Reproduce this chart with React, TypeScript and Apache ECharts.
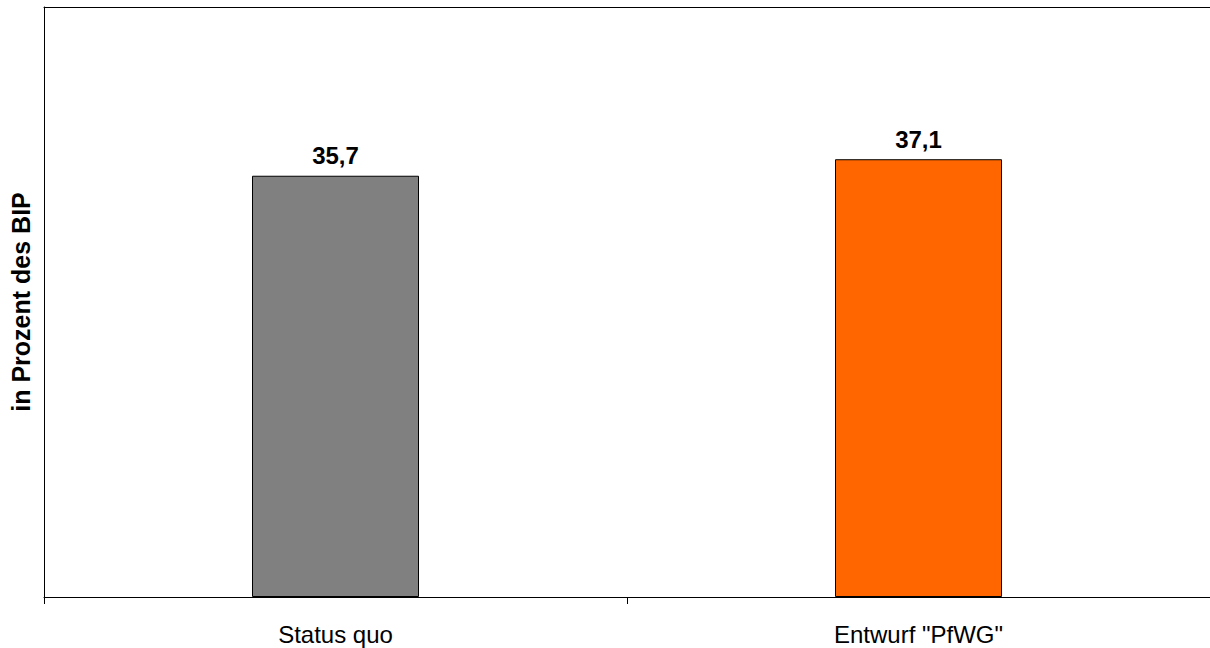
import React, { useEffect, useRef } from "react";
import * as echarts from "echarts";

const categories = ["Status quo", 'Entwurf "PfWG"'];
const values = [35.7, 37.1];
const barColors = ["#808080", "#FF6600"];
const yAxisName = "in Prozent des BIP";

const FONT = "Liberation Sans, Arial, sans-serif";

export default function App() {
  const ref = useRef<HTMLDivElement>(null);
  useEffect(() => {
    const chart = echarts.init(ref.current!, undefined, { renderer: "svg" });
    chart.setOption({
      animation: false,
      backgroundColor: "#fff",
      textStyle: { fontFamily: FONT },
      grid: { left: 42, right: 0, top: 7, bottom: 51, containLabel: false },
      xAxis: [
        {
          type: "category",
          data: categories,
          axisLine: { show: true, lineStyle: { color: "#000", width: 1 } },
          axisTick: { show: true, length: 7, lineStyle: { color: "#000" } },
          axisLabel: { color: "#000", fontSize: 24, margin: 25, fontFamily: FONT },
        },
        {
          type: "category",
          data: categories,
          position: "top",
          axisLine: { show: true, lineStyle: { color: "#000", width: 1 } },
          axisTick: { show: false },
          axisLabel: { show: false },
        },
      ],
      yAxis: {
        type: "value",
        min: 0,
        max: 50,
        name: yAxisName,
        nameLocation: "middle",
        nameGap: 11,
        nameTextStyle: { color: "#000", fontSize: 25, fontWeight: "bold", fontFamily: FONT },
        axisLine: { show: true, lineStyle: { color: "#000", width: 1 } },
        axisTick: { show: false },
        axisLabel: { show: false },
        splitLine: { show: false },
      },
      series: [
        {
          type: "bar",
          barWidth: 167,
          data: values.map((v, i) => ({
            value: v,
            itemStyle: { color: barColors[i], borderColor: "#000", borderWidth: 1 },
          })),
          label: {
            show: true,
            position: "top",
            distance: 8,
            color: "#000",
            fontSize: 24,
            fontWeight: "bold",
            fontFamily: FONT,
            formatter: (p: any) => String(p.value).replace(".", ","),
          },
        },
      ],
    });
    return () => chart.dispose();
  }, []);
  return (
    <div
      ref={ref}
      style={{ position: "fixed", left: 0, top: 0, width: 1210, height: 648 }}
    />
  );
}
